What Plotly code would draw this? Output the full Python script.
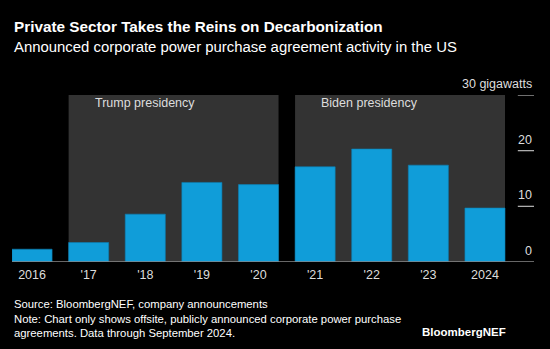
import plotly.graph_objects as go

# Announced corporate PPA activity in the US, gigawatts
years = ["2016", "'17", "'18", "'19", "'20", "'21", "'22", "'23", "2024"]
gigawatts = [2.3, 3.5, 8.6, 14.3, 13.9, 17.1, 20.3, 17.4, 9.7]

# Presidency bands: (label, first year index, last year index)
presidencies = [("Trump presidency", 1, 4), ("Biden presidency", 5, 8)]

y_ticks = [0, 10, 20, 30]
y_tick_labels = ["0", "10", "20", "30 gigawatts"]

BLUE = "#109dd9"
SHADE = "#333333"
FONT = "Liberation Sans, Arial, sans-serif"

x_idx = list(range(len(years)))
half_bar = 0.354

fig = go.Figure()
fig.add_trace(go.Bar(
    x=x_idx, y=gigawatts,
    marker=dict(color=BLUE, line=dict(color="#0b7fb3", width=0.6)),
    width=2 * half_bar,
    hoverinfo="skip",
))

shapes = []
annotations = []
for label, i0, i1 in presidencies:
    shapes.append(dict(type="rect", xref="x", yref="y",
                       x0=i0 - half_bar, x1=i1 + half_bar, y0=0, y1=30,
                       fillcolor=SHADE, line=dict(width=0), layer="below"))
    annotations.append(dict(text=label, xref="x", yref="y",
                            x=i0 - half_bar + 0.43, y=28.5,
                            xanchor="left", yanchor="middle", showarrow=False,
                            font=dict(family=FONT, size=12.5, color="#dddddd")))

# Right-hand value scale: short rules with labels above them
for v, t in zip(y_ticks, y_tick_labels):
    if v > 0:
        shapes.append(dict(type="line", xref="paper", yref="y",
                           x0=0.969, x1=1.0, y0=v, y1=v,
                           line=dict(color="#bbbbbb", width=1.2)))
    annotations.append(dict(text=t, xref="paper", yref="y", x=1.0, y=v,
                            xanchor="right", yanchor="bottom", yshift=2,
                            showarrow=False,
                            font=dict(family=FONT, size=12.5, color="#dddddd")))

# Baseline
shapes.append(dict(type="line", xref="paper", yref="y", x0=0, x1=1, y0=0, y1=0,
                   line=dict(color="#8a8a8a", width=1.5)))

# Title, subtitle, footer
annotations += [
    dict(text="<b>Private Sector Takes the Reins on Decarbonization</b>",
         xref="paper", yref="paper", x=0, y=1, xanchor="left", yanchor="middle",
         showarrow=False, font=dict(family=FONT, size=15.3, color="white")),
    dict(text="Announced corporate power purchase agreement activity in the US",
         xref="paper", yref="paper", x=0, y=1, xanchor="left", yanchor="middle",
         showarrow=False, font=dict(family=FONT, size=14.9, color="white")),
    dict(text="Source: BloombergNEF, company announcements<br>"
              "Note: Chart only shows offsite, publicly announced corporate power purchase<br>"
              "agreements. Data through September 2024.",
         xref="paper", yref="paper", x=0, y=0, xanchor="left", yanchor="middle",
         align="left", showarrow=False,
         font=dict(family=FONT, size=11.3, color="white")),
    dict(text="<b>BloombergNEF</b>",
         xref="paper", yref="paper", x=0, y=0, xanchor="right", yanchor="middle",
         showarrow=False, font=dict(family=FONT, size=11.5, color="white")),
]

W, H = 550, 349
ML, MR, MT, MB = 12, 16, 95, 87
pw, ph = W - ML - MR, H - MT - MB


def px_to_paper(px, py):
    return (px - ML) / pw, (H - MB - py) / ph


# place header/footer text at pixel positions
tx, ty = px_to_paper(12, 27)
annotations[-4].update(x=tx, y=ty)
tx, ty = px_to_paper(12, 47.5)
annotations[-3].update(x=tx, y=ty)
tx, ty = px_to_paper(12, 318.5)
annotations[-2].update(x=tx, y=ty)
tx, ty = px_to_paper(508, 332)
annotations[-1].update(x=tx, y=ty)

fig.update_layout(
    width=W, height=H,
    margin=dict(l=ML, r=MR, t=MT, b=MB),
    paper_bgcolor="black", plot_bgcolor="black",
    showlegend=False,
    shapes=shapes, annotations=annotations,
    xaxis=dict(range=[-half_bar, 8 + half_bar + 0.512], tickvals=x_idx, ticktext=years,
               showgrid=False, zeroline=False, showline=False, ticks="",
               ticklabelstandoff=3,
               tickfont=dict(family=FONT, size=12.5, color="#dddddd")),
    yaxis=dict(range=[0, 30], showgrid=False, zeroline=False, showticklabels=False,
               showline=False),
)

fig.write_html("out.html")
